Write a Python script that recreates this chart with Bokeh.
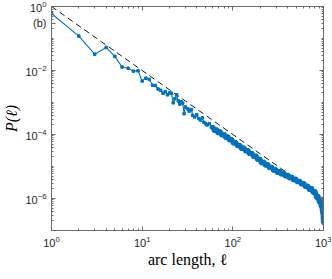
from bokeh.plotting import figure
from bokeh.models import LogAxis, FixedTicker, ColumnDataSource, CustomJSTickFormatter
from bokeh.embed import file_html
from bokeh.resources import INLINE

# ---- data ----
arc_length = [1, 2, 3, 4, 5, 6, 7, 8, 9, 10, 11, 12, 13, 14, 15, 16, 17, 18, 19, 20,
              21, 22, 23, 24, 25, 26, 27, 28, 29, 30, 32, 33, 35, 36, 38, 40, 42, 44, 46,
              48, 50, 52, 55, 58,
              60, 63, 66, 69, 72, 76, 80, 84, 88, 92, 97, 102, 107, 113, 119, 125, 132,
              139, 146, 154, 162, 170, 179, 188, 198, 208, 219, 230, 242, 255, 268, 282,
              297, 312, 328, 345, 363, 382, 402, 423, 445, 468, 492, 518, 545, 573, 603,
              634, 667, 700, 735, 770, 805, 840, 870, 900, 925, 945, 960, 975, 985, 993, 1000]
log10_P = [-0.22, -0.925, -1.49, -1.28, -1.56, -1.89, -1.93, -2.02, -2.01, -2.33, -2.24,
           -2.28, -2.46, -2.47, -2.58, -2.62, -2.71, -2.66, -2.76, -2.70,
           -2.71, -3.01, -2.88, -2.76, -2.95, -3.05, -2.98, -3.02, -3.35, -3.14, -3.20,
           -3.27, -3.22, -3.40, -3.45, -3.38, -3.50, -3.55, -3.48, -3.62, -3.66, -3.70,
           -3.66, -3.78,
           -3.76, -3.90, -3.83, -3.97, -3.89, -4.04, -3.98, -4.12, -4.05, -4.19, -4.14,
           -4.29, -4.23, -4.37, -4.32, -4.46, -4.40, -4.54, -4.48, -4.62, -4.57, -4.71,
           -4.65, -4.80, -4.75, -4.91, -4.84, -4.98, -4.92, -5.06, -5.00, -5.14, -5.08,
           -5.21, -5.13, -5.26, -5.19, -5.32, -5.25, -5.38, -5.31, -5.44, -5.37, -5.50,
           -5.44, -5.57, -5.51, -5.65, -5.59, -5.74, -5.66, -5.83, -5.76, -5.99, -5.91,
           -6.13, -6.04, -6.27, -6.18, -6.46, -6.40, -6.62, -6.78]
ref_length = [1, 1000]
ref_P = [1.0, 1e-6]

x_major = [1, 10, 100, 1000]
y_major = [1e-6, 1e-4, 1e-2, 1]
panel_tag = "(b)"
panel_tag_at = 0.3   # shown beside the left axis, near its top

P_vals = [10 ** v for v in log10_P]
n_head = 44
src = ColumnDataSource(dict(x=arc_length, y=P_vals))
head = ColumnDataSource(dict(x=arc_length[:n_head + 1], y=P_vals[:n_head + 1]))
tail = ColumnDataSource(dict(x=arc_length[n_head:], y=P_vals[n_head:]))

p = figure(frame_width=272, frame_height=224, x_axis_type="log", y_axis_type="log",
           x_range=(1, 1000), y_range=(1e-7, 1),
           output_backend="svg", toolbar_location=None,
           min_border_left=43, min_border_right=8, min_border_top=6, min_border_bottom=10)
p.background_fill_color = "white"
p.border_fill_color = "white"
p.outline_line_color = "#6b6b6b"
p.grid.visible = False

minor_x = [m * 10 ** k for k in range(0, 3) for m in range(2, 10)]
minor_y = [m * 10.0 ** k for k in range(-7, 0) for m in range(1, 10) if not (m == 1 and k % 2 == 0)]

xt = FixedTicker(ticks=x_major, minor_ticks=minor_x)
yt = FixedTicker(ticks=y_major, minor_ticks=minor_y)
yt_left = FixedTicker(ticks=y_major + [panel_tag_at], minor_ticks=minor_y)

for ax in p.xaxis + p.yaxis:
    ax.major_tick_in = 4
    ax.major_tick_out = 0
    ax.minor_tick_in = 2
    ax.minor_tick_out = 0
    ax.axis_line_color = "#6b6b6b"
    ax.major_tick_line_color = "#6b6b6b"
    ax.minor_tick_line_color = "#6b6b6b"
    ax.major_label_text_font = "Liberation Sans"
    ax.major_label_text_font_size = "11px"
    ax.major_label_text_color = "#262626"
    ax.axis_label_text_font = "Liberation Serif"
    ax.axis_label_text_font_size = "16px"
    ax.axis_label_text_color = "#000000"

p.xaxis.ticker = xt
p.yaxis.ticker = yt_left
p.yaxis.major_label_overrides = {panel_tag_at: panel_tag}
p.xaxis.axis_label = "arc length, ℓ"
p.xaxis.axis_label_text_font_style = "normal"
p.xaxis.axis_label_standoff = 1
p.xaxis.major_label_standoff = 5
p.yaxis.axis_label = "P(ℓ)"
p.yaxis.axis_label_text_font_style = "italic"
p.yaxis.axis_label_standoff = 2
p.yaxis.major_label_standoff = 5

blank = CustomJSTickFormatter(code="return ''")
for loc, tk in (("above", xt), ("right", yt)):
    ax = LogAxis(ticker=tk, formatter=blank)
    ax.major_label_standoff = 0
    ax.major_tick_in = 4
    ax.major_tick_out = 0
    ax.minor_tick_in = 2
    ax.minor_tick_out = 0
    ax.axis_line_color = "#6b6b6b"
    ax.major_tick_line_color = "#6b6b6b"
    ax.minor_tick_line_color = "#6b6b6b"
    p.add_layout(ax, loc)

# reference power law
p.line(ref_length, ref_P, line_color="#1a1a1a", line_width=1, line_dash="6 4")

# data
blue = "#0072BD"
p.line("x", "y", source=tail, line_color=blue, line_width=5)
p.line("x", "y", source=src, line_color=blue, line_width=1.1)
p.scatter("x", "y", source=head, marker="square", size=2.5, fill_color=blue, line_color=blue)
p.scatter("x", "y", source=tail, marker="square", size=2.5, fill_color=blue, line_color=blue)

open("out.html", "w").write(file_html(p, INLINE))
